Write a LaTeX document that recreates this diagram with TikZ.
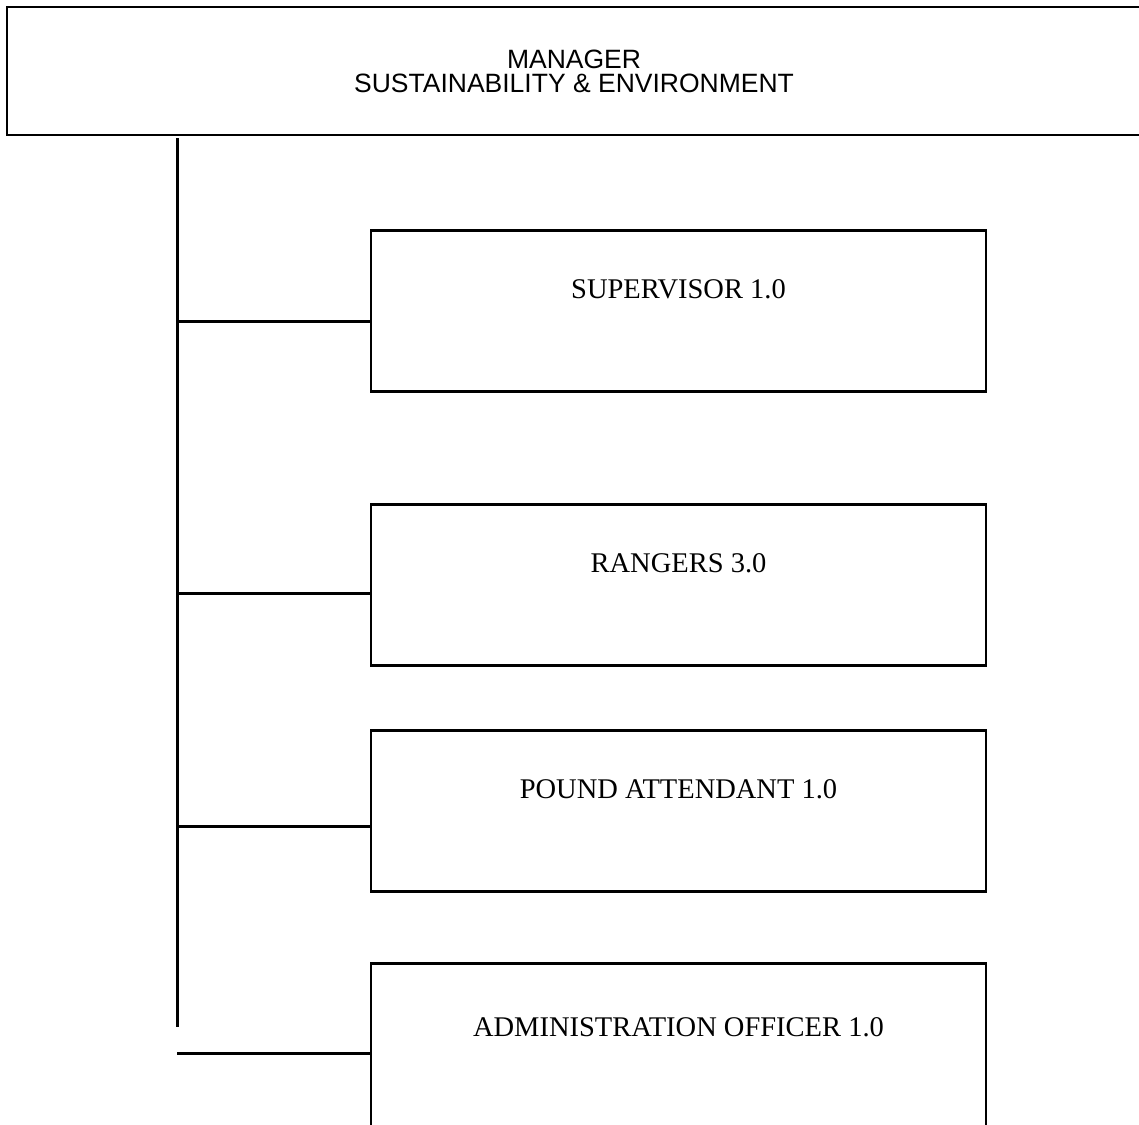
\documentclass[tikz,border=0pt]{standalone}
\usepackage{fontspec}
\setmainfont{Liberation Serif}
\newfontfamily\headfont{Liberation Sans}
\tikzset{
  post/.style={draw,line width=2.5pt,minimum width=615pt,minimum height=161pt,inner sep=0pt,anchor=north,
    text height=15pt,text depth=40pt,font=\fontsize{28.5}{30}\selectfont},
  link/.style={line width=2.5pt}
}
\begin{document}
\begin{tikzpicture}[x=1pt,y=-1pt]
	\useasboundingbox (0,0) rectangle (1139,1124);
	\clip (0,0) rectangle (1139,1124);
	\node [draw,line width=2pt,minimum width=1134pt,minimum height=128pt,align=center,font=\headfont\fontsize{26.5}{24}\selectfont] (boss) at (574,71) {MANAGER\\SUSTAINABILITY \& ENVIRONMENT};
	\node [post] (sup) at (678.5,229) {SUPERVISOR 1.0};
	\node [post] (rng) at (678.5,503) {RANGERS 3.0};
	\node [post] (pnd) at (678.5,729) {POUND ATTENDANT 1.0};
	\node [post,minimum height=200pt,text depth=69pt] (adm) at (678.5,962) {ADMINISTRATION OFFICER 1.0};
	\coordinate (trunk) at (177,138);
	\coordinate (trunkend) at (177,1027);
	\draw [line width=3pt] (trunk) -- (trunkend);
	\draw [link] ([yshift=-10.5pt]sup.west) coordinate (c1) -- (c1 -| trunk);
	\draw [link] ([yshift=-8.5pt]rng.west) coordinate (c2) -- (c2 -| trunk);
	\draw [link] ([yshift=-15.5pt]pnd.west) coordinate (c3) -- (c3 -| trunk);
	\draw [link] ([yshift=10pt]adm.west) coordinate (c4) -- (c4 -| trunk);
\end{tikzpicture}
\end{document}
